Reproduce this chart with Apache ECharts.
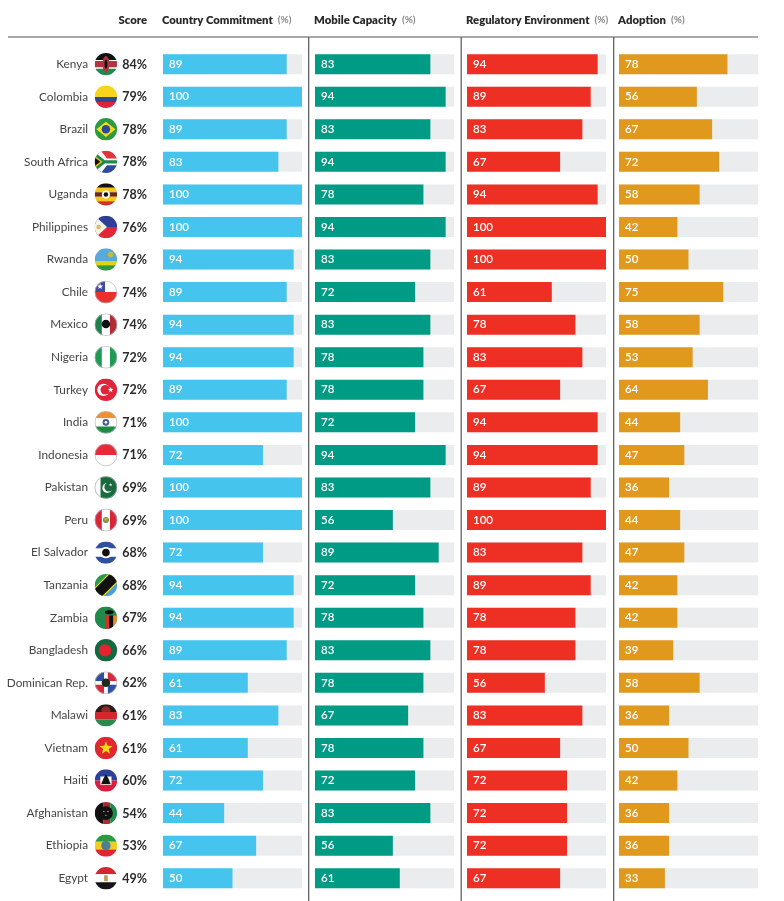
<!DOCTYPE html>
<html><head><meta charset="utf-8">
<style>html,body{margin:0;padding:0;background:#fff}#c{width:784px;height:901px}</style>
<script src="https://cdn.jsdelivr.net/npm/echarts@6/dist/echarts.min.js"></script>
</head><body><div id="c"></div>
<script>
const countries = ['Kenya','Colombia','Brazil','South Africa','Uganda','Philippines','Rwanda','Chile','Mexico','Nigeria','Turkey','India','Indonesia','Pakistan','Peru','El Salvador','Tanzania','Zambia','Bangladesh','Dominican Rep.','Malawi','Vietnam','Haiti','Afghanistan','Ethiopia','Egypt'];
const scores = [84,79,78,78,78,76,76,74,74,72,72,71,71,69,69,68,68,67,66,62,61,61,60,54,53,49];
const countryCommitment = [89,100,89,83,100,100,94,89,94,94,89,100,72,100,100,72,94,94,89,61,83,61,72,44,67,50];
const mobileCapacity = [83,94,83,94,78,94,83,72,83,78,78,72,94,83,56,89,72,78,83,78,67,78,72,83,56,61];
const regulatoryEnvironment = [94,89,83,67,94,100,100,61,78,83,67,94,94,89,100,83,89,78,78,56,83,67,72,72,72,67];
const adoption = [78,56,67,72,58,42,50,75,58,53,64,44,47,36,44,47,42,42,39,58,36,50,42,36,36,33];
const columnTitles = ['Country Commitment','Mobile Capacity','Regulatory Environment','Adoption'];
const columnColors = ['#45c4ee','#009b85','#ee2f24','#e0991c'];
const scoreTitle = 'Score';

const FONT = 'Lato, "Open Sans", sans-serif';
const star = (cx,cy,r,c)=>{const p=[];for(let i=0;i<10;i++){const a=-Math.PI/2+i*Math.PI/5,q=i%2?r*.42:r;p.push([cx+q*Math.cos(a),cy+q*Math.sin(a)]);}return ['p',p,c];};
const flags = {
 'Kenya':[['r',-1,-1,1,-.38,'#111'],['r',-1,-.38,1,-.28,'#fff'],['r',-1,-.28,1,.3,'#b5333f'],['r',-1,.3,1,.4,'#fff'],['r',-1,.4,1,1,'#1f8a4c'],['e',0,0,.3,.72,'#b5333f'],['e',0,0,.13,.42,'#111']],
 'Colombia':[['r',-1,-1,1,.02,'#f7d51d'],['r',-1,.02,1,.48,'#2b4a94'],['r',-1,.48,1,1,'#d9263a']],
 'Brazil':[['r',-1,-1,1,1,'#2c9a40'],['p',[[-.85,0],[0,-.68],[.85,0],[0,.68]],'#f5dc1c'],['c',0,0,.38,'#2b4a94']],
 'South Africa':[['r',-1,-1,1,-.05,'#e0343a'],['r',-1,.05,1,1,'#2f4a9b'],['p',[[-1,-1],[-.45,-1],[.1,-.3],[1,-.3],[1,.3],[.1,.3],[-.45,1],[-1,1]],'#fff'],['p',[[-1,-.85],[-.1,-.15],[1,-.15],[1,.15],[-.1,.15],[-1,.85]],'#1d8a4e'],['p',[[-1,-.55],[-.3,0],[-1,.55]],'#f0bd1e'],['p',[[-1,-.38],[-.5,0],[-1,.38]],'#111']],
 'Uganda':[['r',-1,-1,1,-.6,'#111'],['r',-1,-.6,1,-.2,'#f6c61d'],['r',-1,-.2,1,.2,'#6b2a17'],['r',-1,.2,1,.6,'#f6c61d'],['r',-1,.6,1,1,'#c9352b'],['c',0,0,.36,'#fff'],['c',0,0,.2,'#111']],
 'Philippines':[['r',-1,-1,1,0,'#2f3f95'],['r',-1,0,1,1,'#e2263a'],['p',[[-1,-1],[.1,0],[-1,1]],'#f4f1e6'],['c',-.65,0,.2,'#e2b96a']],
 'Rwanda':[['r',-1,-1,1,.12,'#5aa9dc'],['r',-1,.12,1,.52,'#e2d01f'],['r',-1,.52,1,1,'#2c9a40'],['c',.42,-.45,.24,'#c9b93a']],
 'Chile':[['r',-1,-1,1,0,'#fff'],['r',-1,0,1,1,'#e8302c'],['r',-1,-1,-.08,0,'#3f4da0'],star(-.52,-.5,.28,'#fff'),['o']],
 'Mexico':[['r',-1,-1,-.36,1,'#1d7f4b'],['r',-.36,-1,.36,1,'#fff'],['r',.36,-1,1,1,'#b32b35'],['c',0,-.05,.38,'#111'],['o']],
 'Nigeria':[['r',-1,-1,-.36,1,'#1f9a54'],['r',-.36,-1,.36,1,'#fff'],['r',.36,-1,1,1,'#1f9a54'],['o']],
 'Turkey':[['r',-1,-1,1,1,'#e0243a'],['c',-.22,0,.55,'#fff'],['c',-.06,0,.43,'#e0243a'],star(.42,0,.26,'#fff')],
 'India':[['r',-1,-1,1,-.36,'#f08f2e'],['r',-1,-.36,1,.36,'#fff'],['r',-1,.36,1,1,'#1f8a46'],['c',0,0,.3,'#4c5a95'],['c',0,0,.12,'#fff'],['o']],
 'Indonesia':[['r',-1,-1,1,0,'#e8293a'],['r',-1,0,1,1,'#fff'],['o']],
 'Pakistan':[['r',-1,-1,1,1,'#176b3e'],['r',-1,-1,-.48,1,'#fff'],['c',.12,.05,.44,'#fff'],['c',.26,-.04,.4,'#176b3e'],star(.42,-.24,.16,'#fff'),['o']],
 'Peru':[['r',-1,-1,-.36,1,'#d9263a'],['r',-.36,-1,.36,1,'#fff'],['r',.36,-1,1,1,'#d9263a'],['c',0,0,.27,'#7f8f3d'],['r',-.14,-.2,.14,.05,'#c9a84a'],['o']],
 'El Salvador':[['r',-1,-1,1,-.36,'#2f4fa0'],['r',-1,-.36,1,.36,'#fff'],['r',-1,.36,1,1,'#2f4fa0'],['e',0,0,.6,.5,'#fff'],['c',0,0,.34,'#111']],
 'Tanzania':[['p',[[-1,-1],[1,-1],[-1,1]],'#2a9a4a'],['p',[[1,-1],[1,1],[-1,1]],'#4a9fd8'],['p',[[1,-.8],[1,-.2],[-.2,1],[-.8,1],[-1,.8],[-1,.2],[.2,-1],[.8,-1]],'#f0d21c'],['p',[[1,-.6],[1,-.35],[-.35,1],[-.6,1],[-1,.6],[-1,.35],[.35,-1],[.6,-1]],'#111']],
 'Zambia':[['r',-1,-1,1,1,'#1f8a4c'],['r',-.05,-.2,.3,1,'#d3312c'],['r',.3,-.2,.65,1,'#111'],['r',.65,-.2,1,1,'#e88a2e'],['e',.3,-.5,.4,.2,'#111']],
 'Bangladesh':[['r',-1,-1,1,1,'#12693f'],['c',-.08,0,.55,'#e4232e']],
 'Dominican Rep.':[['r',-1,-1,-.15,-.15,'#2f4fa0'],['r',.15,-1,1,-.15,'#d8293a'],['r',-1,.15,-.15,1,'#d8293a'],['r',.15,.15,1,1,'#2f4fa0'],['r',-1,-.15,1,.15,'#fff'],['r',-.15,-1,.15,1,'#fff'],['c',0,0,.38,'#1f2a1a'],['o']],
 'Malawi':[['r',-1,-1,1,-.3,'#2a1a1a'],['c',0,-.4,.42,'#8d2a2a'],['r',-1,-.3,1,.35,'#d3262d'],['r',-1,.35,1,1,'#2a8a4c']],
 'Vietnam':[['r',-1,-1,1,1,'#e0262e'],star(0,.02,.62,'#f9d71c')],
 'Haiti':[['r',-1,-1,1,0,'#2b3f9b'],['r',-1,0,1,1,'#d91f3f'],['r',-.5,-.36,.5,.38,'#fff'],['p',[[-.42,.32],[-.22,-.18],[0,-.55],[.22,-.18],[.42,.32]],'#111']],
 'Afghanistan':[['r',-1,-1,-.25,1,'#111'],['r',-.25,-1,.38,1,'#a82a33'],['r',.38,-1,1,1,'#1f8a4c'],['c',0,0,.62,'#111'],['c',-.18,-.15,.05,'#ddd'],['c',.18,-.15,.05,'#ddd'],['c',0,.2,.05,'#ddd']],
 'Ethiopia':[['r',-1,-1,1,-.34,'#2c9a40'],['r',-1,-.34,1,.34,'#f2cf1f'],['r',-1,.34,1,1,'#e0272f'],['c',0,0,.42,'#4d7f94']],
 'Egypt':[['r',-1,-1,1,-.36,'#d3262f'],['r',-1,-.36,1,.36,'#fff'],['r',-1,.36,1,1,'#151515'],['r',-.16,-.26,.16,.26,'#c49a4a']]
};

function flagEl(spec, r){
  return spec.filter(s=>s[0]!=='o').map(s=>{
    if(s[0]==='r') return {type:'rect',shape:{x:s[1]*r,y:s[2]*r,width:(s[3]-s[1])*r,height:(s[4]-s[2])*r},style:{fill:s[5]}};
    if(s[0]==='c') return {type:'circle',shape:{cx:s[1]*r,cy:s[2]*r,r:s[3]*r},style:{fill:s[4]}};
    if(s[0]==='e') return {type:'ellipse',shape:{cx:s[1]*r,cy:s[2]*r,rx:s[3]*r,ry:s[4]*r},style:{fill:s[5]}};
    return {type:'polygon',shape:{points:s[1].map(q=>[q[0]*r,q[1]*r])},style:{fill:s[2]}};
  });
}

const xs = [163,315,467,619], colW = 139, gridTop = 47.9, gridH = 846.6;
const grids = xs.map(x=>({left:x,top:gridTop,width:colW,height:gridH}));
grids.push({left:94,top:gridTop,width:53,height:gridH});
const xAxes = grids.map((g,i)=>({type:'value',gridIndex:i,min:0,max:100,show:false}));
const yAxes = grids.map((g,i)=>({type:'category',gridIndex:i,inverse:true,data:countries,
  axisLine:{show:false},axisTick:{show:false},
  axisLabel:{show:i===4,margin:6,fontFamily:FONT,fontSize:11.8,color:'#454545',padding:[1,0,0,0]}}));
const seriesData = [countryCommitment,mobileCapacity,regulatoryEnvironment,adoption];
const series = seriesData.map((d,i)=>({type:'bar',xAxisIndex:i,yAxisIndex:i,data:d,barWidth:20,
  itemStyle:{color:columnColors[i]},showBackground:true,backgroundStyle:{color:'#ebecee'},
  label:{show:true,position:'insideLeft',distance:6,color:'#fff',fontFamily:FONT,fontSize:11.5,fontWeight:600},
  silent:true,animation:false}));
series.push({type:'custom',xAxisIndex:4,yAxisIndex:4,animation:false,silent:true,clip:false,
  data:countries.map((c,i)=>[22.5,i,scores[i]]),
  encode:{x:0,y:1},
  renderItem:(p,api)=>{
    const [cx,cy]=api.coord([api.value(0),api.value(1)]);
    const [rx]=api.coord([100,api.value(1)]);
    const name=countries[p.dataIndex], spec=flags[name], r=11.2;
    const children=[{type:'group',x:cx,y:cy,clipPath:{type:'circle',shape:{cx:0,cy:0,r:r}},children:flagEl(spec,r)}];
    if(spec.some(s=>s[0]==='o')) children.push({type:'circle',x:cx,y:cy,shape:{cx:0,cy:0,r:r-.3},style:{fill:'none',stroke:'#b8b8b8',lineWidth:.7}});
    children.push({type:'text',x:rx,y:cy+.5,style:{text:api.value(2)+'%',align:'right',verticalAlign:'middle',fill:'#2a2a2a',font:'700 12.5px '+FONT}});
    return {type:'group',children};
  }});

const titles = columnTitles.map((t,i)=>({text:'{a|'+t+'} {b|(%)}',left:xs[i]-1,top:11,padding:0,
  textStyle:{rich:{a:{fontFamily:FONT,fontSize:11.3,fontWeight:800,color:'#2a2a2a'},b:{fontFamily:FONT,fontSize:10,color:'#888'}}}}));
titles.push({text:scoreTitle,left:147,top:15,padding:0,textAlign:'right',textStyle:{fontFamily:FONT,fontSize:11.3,fontWeight:800,color:'#2a2a2a'}});
const rule={stroke:'#555',lineWidth:1.2};
const graphic=[{type:'line',shape:{x1:8,y1:37,x2:758,y2:37},style:rule}].concat(
  [308.7,461.2,613.7].map(x=>({type:'line',shape:{x1:x,y1:37,x2:x,y2:901},style:rule})));

const chart=echarts.init(document.getElementById('c'),null,{renderer:'canvas'});
chart.setOption({backgroundColor:'#fff',animation:false,title:titles,grid:grids,xAxis:xAxes,yAxis:yAxes,series,graphic});
</script></body></html>
